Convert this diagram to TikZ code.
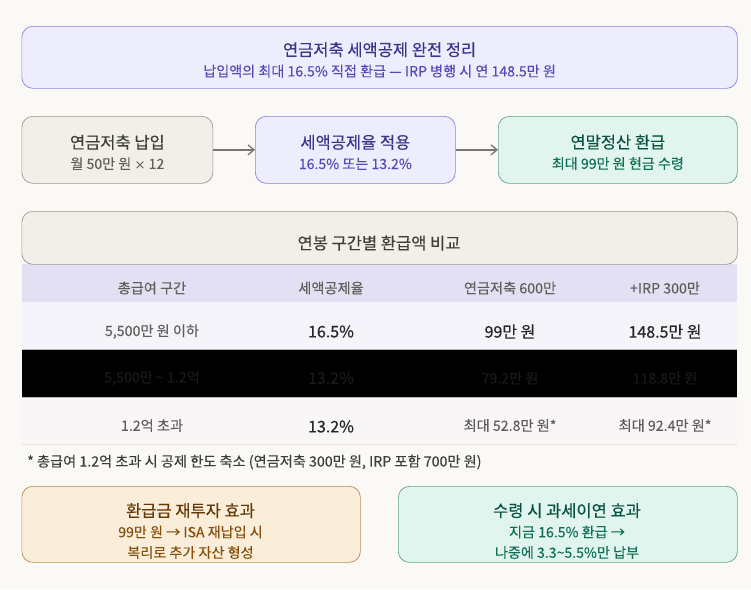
\documentclass[tikz,border=0pt]{standalone}
\usepackage{fontspec}
\usetikzlibrary{arrows.meta}
\setmainfont[FakeBold=0.1]{Noto Sans CJK KR}
\newfontfamily\medfont[FakeBold=0.3]{Noto Sans CJK KR}
\newfontfamily\strongfont[FakeBold=0.6]{Noto Sans CJK KR}
\definecolor{pagebg}{HTML}{FBF9F6}
\definecolor{purpfill}{HTML}{EEEDFE}
\definecolor{purpline}{HTML}{8A83DC}
\definecolor{purpdark}{HTML}{3C3489}
\definecolor{purptext}{HTML}{534AB7}
\definecolor{grayfill}{HTML}{F1EFE8}
\definecolor{grayline}{HTML}{9A9890}
\definecolor{graydark}{HTML}{3D3D3A}
\definecolor{graytext}{HTML}{5F5E5A}
\definecolor{tealfill}{HTML}{E1F5EE}
\definecolor{tealline}{HTML}{5FA58E}
\definecolor{tealdark}{HTML}{085041}
\definecolor{tealtext}{HTML}{0F6E56}
\definecolor{ambfill}{HTML}{FAEEDA}
\definecolor{ambline}{HTML}{B58A55}
\definecolor{ambdark}{HTML}{633806}
\definecolor{ambtext}{HTML}{854F0B}
\definecolor{headfill}{HTML}{E3E0F3}
\definecolor{rowa}{HTML}{F5F4FA}
\definecolor{rowc}{HTML}{F8F6F7}
\definecolor{rowline}{HTML}{E6E4E0}
\definecolor{hidden}{HTML}{1A1A1A}
\newcommand{\headtxt}[1]{{\medfont\fontsize{16.5}{21}\selectfont #1}}
\begin{document}
\begin{tikzpicture}[
            x=1pt, y=-1pt,
            box/.style={draw, rounded corners=11pt, line width=0.7pt, anchor=north west, inner sep=0pt},
            lbl/.style={align=center, font=\fontsize{14.1}{20.5}\selectfont, inner sep=0pt},
            rowbox/.style={anchor=north west, inner sep=0pt, minimum width=715.5pt},
            cell/.style={font=\fontsize{14.2}{16}\selectfont, text=graytext, inner sep=0pt},
            big/.style={font=\strongfont\fontsize{16}{18}\selectfont, text=black!85, inner sep=0pt},
            dim/.style={font=\fontsize{14.2}{16}\selectfont, text=hidden, inner sep=0pt},
            flow/.style={-{Straight Barb[length=6pt,width=10pt]}, draw=graytext!85, line width=1.3pt}
        ]
           \useasboundingbox[fill=pagebg] (0,0) rectangle (751,589);

           \node[box, draw=purpline, fill=purpfill, minimum width=715.5pt, minimum height=62pt] (title) at (21.5,26) {};
           \node[lbl, text=purptext, yshift=-2.5pt] (titletxt) at (title.center) {\textcolor{purpdark}{\headtxt{연금저축 세액공제 완전 정리}} \\ 납입액의 최대 16.5\% 직접 환급 — IRP 병행 시 연 148.5만 원};

           \node[box, draw=grayline, fill=grayfill, minimum width=191pt, minimum height=67pt] (pay) at (21.5,116) {};
           \node[lbl, text=graytext, yshift=-2.5pt] (paytxt) at (pay.center) {\textcolor{graydark}{\headtxt{연금저축 납입}} \\ 월 50만 원 {\fontsize{11}{20.5}\selectfont ×} 12};
           \node[box, draw=purpline, fill=purpfill, minimum width=200pt, minimum height=67pt] (rate) at (255,116) {};
           \node[lbl, text=purptext, yshift=-2.5pt] (ratetxt) at (rate.center) {\textcolor{purpdark}{\headtxt{세액공제율 적용}} \\ 16.5\% 또는 13.2\%};
           \node[box, draw=tealline, fill=tealfill, minimum width=239pt, minimum height=67pt] (refund) at (498,116) {};
           \node[lbl, text=tealtext, yshift=-2.5pt] (refundtxt) at (refund.center) {\textcolor{tealdark}{\headtxt{연말정산 환급}} \\ 최대 99만 원 현금 수령};

           \draw[flow] (pay) -- (rate);
           \draw[flow] (rate) -- (refund);

           % table
           \node[rowbox, fill=headfill, minimum height=38pt] (head) at (21.5,264) {};
           \node[rowbox, fill=rowa, minimum height=47pt] (rowone) at (21.5,302) {};
           \node[rowbox, fill=black, minimum height=48pt] (rowtwo) at (21.5,349) {};
           \node[rowbox, fill=rowc, minimum height=47pt] (rowthree) at (21.5,397) {};
           \draw[rowline] (rowthree.south west) -- (rowthree.south east);
           \draw[grayline!70] (rowtwo.north west) -- (rowtwo.north east);
           \draw[grayline!70] (rowtwo.south west) -- (rowtwo.south east);
           \node[box, draw=grayline, fill=grayfill, minimum width=715.5pt, minimum height=53pt] (tabtitle) at (21.5,211) {};
           \node[text=graydark, inner sep=0pt] (tabtxt) at (379,243) {\headtxt{연봉 구간별 환급액 비교}};

           \node[cell] (h1) at (152,288) {총급여 구간};
           \node[cell] (h2) at (331,288) {세액공제율};
           \node[cell] (h3) at (510,288) {연금저축 600만};
           \node[cell] (h4) at (665,288) {+IRP 300만};

           \node[cell] (a1) at (152,331.5) {5,500만 원 이하};
           \node[big] (a2) at (331,331.5) {16.5\%};
           \node[big] (a3) at (510,331.5) {99만 원};
           \node[big] (a4) at (665,331.5) {148.5만 원};

           \node[dim] (b1) at (152,378) {5,500만 \textasciitilde{} 1.2억};
           \node[dim, font=\fontsize{16}{18}\selectfont] (b2) at (331,378) {13.2\%};
           \node[dim] (b3) at (510,378) {79.2만 원};
           \node[dim] (b4) at (665,378) {118.8만 원};

           \node[cell] (c1) at (152,425.5) {1.2억 초과};
           \node[big] (c2) at (331,426.5) {13.2\%};
           \node[cell] (c3) at (510,425.5) {최대 52.8만 원*};
           \node[cell] (c4) at (665,425.5) {최대 92.4만 원*};

           \node[cell, anchor=west, text=graydark] (note) at (27,462) {* 총급여 1.2억 초과 시 공제 한도 축소 (연금저축 300만 원, IRP 포함 700만 원)};

           \node[box, draw=ambline, fill=ambfill, minimum width=338.5pt, minimum height=76pt] (reinvest) at (21.5,486) {};
           \node[lbl, text=ambtext] (reinvesttxt) at (190.5,531) {\textcolor{ambdark}{\headtxt{환급금 재투자 효과}} \\ 99만 원 → ISA 재납입 시 \\ 복리로 추가 자산 형성};
           \node[box, draw=tealline, fill=tealfill, minimum width=339pt, minimum height=76pt] (defer) at (398,486) {};
           \node[lbl, text=tealtext] (defertxt) at (567,531) {\textcolor{tealdark}{\headtxt{수령 시 과세이연 효과}} \\ 지금 16.5\% 환급 → \\ 나중에 3.3\textasciitilde{}5.5\%만 납부};
        \end{tikzpicture}
\end{document}
